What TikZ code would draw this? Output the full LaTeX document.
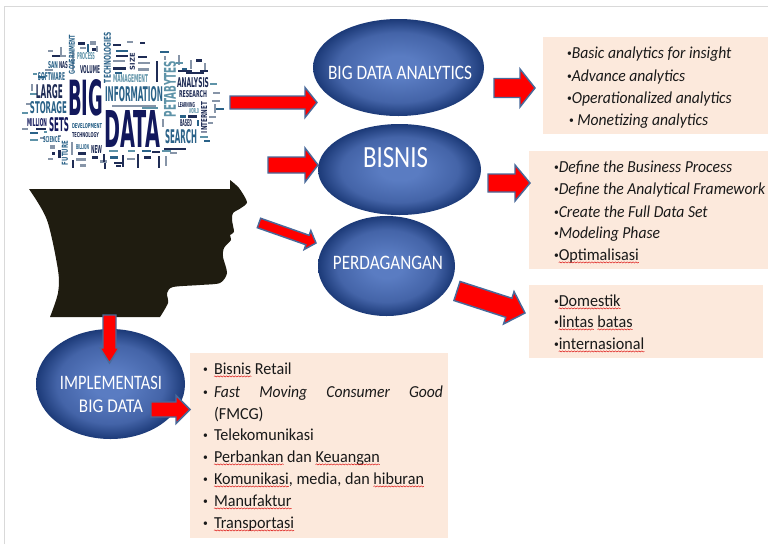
\documentclass[tikz,border=0pt]{standalone}
\usepackage{fontspec}
\usepackage{graphicx}
\setmainfont[FakeStretch=.96,ItalicFeatures={FakeStretch=.93}]{Carlito}
\newfontfamily\cloudfont{DejaVu Sans}
\usetikzlibrary{calc,shapes.geometric,decorations.pathmorphing}
\definecolor{boxfill}{HTML}{FCE9DC}
\definecolor{arrowline}{HTML}{48699A}
\definecolor{ballin}{HTML}{5A7CC2}
\definecolor{ballmid}{HTML}{4464A8}
\definecolor{ballout}{HTML}{1C3A78}
\definecolor{headcol}{HTML}{1F1C10}
\definecolor{framecol}{HTML}{D9D9D9}
\definecolor{cnavy}{HTML}{12185C}
\definecolor{cdark}{HTML}{1F2C55}
\definecolor{cteal}{HTML}{2A6288}
\definecolor{clite}{HTML}{5E93A8}
\definecolor{cgray}{HTML}{8795A8}
\pgfdeclareradialshading{ballshade}{\pgfpointorigin}{color(0bp)=(ballin);color(6bp)=(ballin);color(18bp)=(ballmid);color(25bp)=(ballout);color(50bp)=(ballout)}
\newsavebox\sqbox
\newcommand{\sq}[1]{\sbox\sqbox{#1}\leavevmode\rlap{\usebox\sqbox}\tikz[overlay,baseline=0pt]\draw[red!85!black,line width=.3pt,decorate,decoration={snake,amplitude=.45pt,segment length=2.2pt}] (0pt,-1.8pt)--(\the\wd\sqbox,-1.8pt);\hspace{\wd\sqbox}}
\newcommand{\txline}[4]{\node[bodytext] (#1) at (#2,#3) {#4};}
\newcommand{\dotb}{\raisebox{.9pt}{\fontsize{7.5pt}{8pt}\selectfont\upshape •}}
\newcommand{\blt}[1]{\makebox[8.25pt][l]{\dotb}#1}
\newcommand{\wch}[7]{\pgfmathsetlengthmacro\wcw{(#4-#2)*.75pt}\pgfmathsetlengthmacro\wcv{(#5-#3)*.75pt}%
 \node[cloudword,text=#6] (#1) at ({(#2+#4)/2},{(#3+#5)/2}) {\resizebox{\wcw}{\wcv}{\cloudfont\bfseries #7}};}
\newcommand{\wcr}[7]{\pgfmathsetlengthmacro\wcw{(#5-#3)*.75pt}\pgfmathsetlengthmacro\wcv{(#4-#2)*.75pt}%
 \node[cloudword,text=#6,rotate=90] (#1) at ({(#2+#4)/2},{(#3+#5)/2}) {\resizebox{\wcw}{\wcv}{\cloudfont\bfseries #7}};}
\newcommand{\barrow}[5]{\pgfmathsetlengthmacro\sa{#3*.75pt}\pgfmathsetlengthmacro\wa{#4*.75pt}\pgfmathsetlengthmacro\la{#5*.75pt}%
 \coordinate (hb) at ($(#2)!\la!(#1)$);
 \draw[blockarrow] ($(#1)!\sa!90:(#2)$) -- ($(hb)!\sa!90:(#2)$) -- ($(hb)!\wa!90:(#2)$) -- (#2) -- ($(hb)!\wa!-90:(#2)$) -- ($(hb)!\sa!-90:(#2)$) -- ($(#1)!\sa!-90:(#2)$) -- cycle;}
\tikzset{
 bodytext/.style={anchor=base west,inner sep=0pt,outer sep=0pt,font=\fontsize{12.6pt}{14pt}\selectfont,text=black!90},
 bodyit/.style={bodytext,font=\fontsize{12.6pt}{14pt}\selectfont\itshape},
 cloudword/.style={inner sep=0pt,outer sep=0pt},
 peach/.style={fill=boxfill,draw=none},
 ball/.style={ellipse,inner sep=0pt,shading=ballshade,draw=none},
 balltext/.style={inner sep=0pt,text=white,align=center},
 blockarrow/.style={fill=red,draw=arrowline,line width=1.1pt,line join=miter}
}
\begin{document}
\begin{tikzpicture}[x=.75pt,y=-.75pt]
\useasboundingbox (0,0) rectangle (768,544);
\fill[white] (0,0) rectangle (768,544);
\draw[framecol,line width=1.2pt] (4.5,544) -- (4.5,6.5) -- (768,6.5);

\foreach \x/\y/\w/\h/\c in {
22/112/6/2/clite,26/103/5/2/cgray,30/93/7/2/clite,31/84/2/7/cgray,38/76/7/2/cteal,45/69/8/2/cgray,33/73/4/2/clite,
52/55/8/2/cdark,60/55/6/2/cgray,48/50/5/2/cgray,60/47/2/8/cgray,
78/42/7/3/cdark,90/41/6/4/cgray,92/48/4/3/cdark,80/47/6/2/cgray,
22/128/6/2/cgray,30/132/8/2/cteal,36/128/10/2/cdark,40/137/5/2/cgray,30/139/8/2/clite,
50/145/5/4/cgray,52/152/3/3/cdark,58/150/3/8/cdark,48/158/5/2/cgray,
71/142/2/13/cgray,78/152/8/3/cdark,76/158/10/3/cgray,92/156/6/3/cdark,80/164/6/3/cgray,72/160/2/8/cdark,
100/160/7/3/cgray,103/154/2/8/cdark,109/150/9/2/clite,110/156/8/3/cteal,114/162/8/2/cdark,
104/163/2/6/cdark,116/165/5/2/cdark,122/155/2/12/cdark,128/150/7/2/clite,127/158/8/2/cgray,
137/154/2/14/cdark,142/150/9/2/cteal,144/156/7/3/cdark,152/151/8/2/cdark,158/156/2/12/cdark,
162/150/9/2/clite,165/156/2/10/cgray,170/152/7/2/cgray,176/148/10/2/cdark,
113/44/8/2/cdark,127/41/6/2/cgray,140/42/5/2/cdark,116/50/12/2/cteal,116/55/12/2/cdark,113/60/12/2/cgray,
113/67/13/3/cdark,115/72/7/2/cteal,138/56/9/2/cdark,138/62/12/2/cgray,138/68/11/3/cgray,
156/61/2/21/cdark,160/51/9/2/cteal,164/56/2/4/cgray,178/55/2/10/cgray,
176/62/7/2/clite,182/68/5/2/cteal,178/70/14/2/cdark,190/60/2/9/cgray,196/59/6/3/cdark,186/72/18/2/cdark,
200/70/8/2/cdark,204/63/2/7/cgray,112/105/20/2/cgray,132/105/24/2/cgray,142/107/16/2/clite,
210/83/7/2/clite,213/92/7/2/cgray,212/100/8/2/cgray,214/104/2/9/cgray,216/108/8/2/cteal,
209/116/7/2/cgray,208/122/5/2/cgray,180/115/6/3/cteal,188/115/9/3/cdark,
197/120/2/6/cteal,162/119/2/8/cgray,
200/136/8/2/clite,204/140/6/2/cteal,164/148/12/2/cdark,
72/52/1.5/18/cgray,96/46/2/6/cgray,87/44/2/8/cteal,58/135/3/2/cgray,44/131/3/2/clite}
{\fill[\c] (\x,\y) rectangle ++(\w,\h);}

\wch{wBig}{68}{80}{103}{116}{cnavy}{BIG}
\wch{wData}{104}{110}{160}{147}{cnavy}{DATA}
\wch{wInfo}{105}{87}{163}{102}{cteal}{INFORMATION}
\wch{wStorage}{30}{102}{67}{114}{cteal}{STORAGE}
\wch{wLarge}{36}{85}{63}{99}{cdark}{LARGE}
\wch{wSets}{49}{118}{69}{132}{cnavy}{SETS}
\wch{wMillion}{27}{119}{47}{127}{cnavy}{MILLION}
\wch{wSoftware}{38}{73}{65}{81}{cteal}{SOFTWARE}
\wch{wSan}{48}{62}{58}{69}{cteal}{SAN}
\wch{wNas}{59}{62}{68}{69}{cdark}{NAS}
\wch{wProcess}{77}{53}{95}{60}{clite}{PROCESS}
\wch{wVolume}{80}{66}{100}{74}{cdark}{VOLUME}
\wch{wManage}{113}{75}{148}{83}{clite}{MANAGEMENT}
\wch{wAnalysis}{177}{78}{209}{88}{cdark}{ANALYSIS}
\wch{wResearch}{179}{91}{207}{98}{cdark}{RESEARCH}
\wch{wSearch}{165}{130}{197}{144}{cteal}{SEARCH}
\wch{wBased}{180}{120}{192}{127}{cdark}{BASED}
\wch{wDevel}{72}{124}{102}{129}{cteal}{DEVELOPMENT}
\wch{wTechy}{72}{133}{99}{138}{cdark}{TECHNOLOGY}
\wch{wBillion}{76}{145}{89}{150}{cteal}{BILLION}
\wch{wNew}{91}{145}{102}{153}{cdark}{NEW}
\wch{wScience}{43}{137}{60}{143}{cteal}{SCIENCE}
\wch{wWorld}{189}{109}{199}{114}{clite}{WORLD}
\wch{wLearning}{178}{103}{195}{108}{cdark}{LEARNING}
\wcr{wTechs}{104}{32}{111}{83}{cteal}{TECHNOLOGIES}
\wcr{wGov}{69}{35}{75}{74}{cteal}{GOVERNMENT}
\wcr{wPeta}{164}{61}{176}{117}{clite}{PETABYTES}
\wcr{wInternet}{201}{102}{207}{133}{cdark}{INTERNET}
\wcr{wFuture}{62}{141}{68}{165}{cteal}{FUTURE}
\wcr{wSize}{130}{53}{135}{70}{cdark}{SIZE}

\fill[headcol] (29,189) -- (230,189) -- plot[smooth,tension=.45] coordinates {(230,180)(239,188)(247,202)(241,208)(233,213)(232,220)(234,232)(230,235)(231,240)(224,248)(223,257)(227,273)(220,283)(200,285)(173,287)(167,293)(168,303)(160,317)} -- (50,317) -- plot[smooth,tension=.5] coordinates {(50,317)(58,293)(58,270)(47,220)(29,189)} -- cycle;

\fill[peach] (543,37) rectangle (768,134);
\fill[peach] (529,151) rectangle (768,269);
\fill[peach] (529,285) rectangle (763,358);
\fill[peach] (190,353) rectangle (448,538);

\node[ball,minimum width=128.25pt,minimum height=72.75pt] (eAnalytics) at (398.5,67.5) {};
\node[ball,minimum width=122.25pt,minimum height=68.25pt] (eBisnis) at (399.5,169.5) {};
\node[ball,minimum width=102.75pt,minimum height=75pt] (ePerdagangan) at (386.5,266) {};
\node[ball,minimum width=111.75pt,minimum height=82.5pt] (eImpl) at (110.5,384) {};

\node[balltext] (tAnalytics) at (400,73) {\resizebox{108pt}{10pt}{BIG DATA ANALYTICS}};
\node[balltext] (tBisnis) at (395.5,158) {\resizebox{48.75pt}{15pt}{BISNIS}};
\node[balltext] (tPerdagangan) at (388,263) {\resizebox{82.5pt}{10pt}{PERDAGANGAN}};
\node[balltext] (tImpl) at (111,383) {\resizebox{76.5pt}{10pt}{IMPLEMENTASI}};
\node[balltext] (tBigData) at (111,406) {\resizebox{48pt}{9.5pt}{BIG DATA}};

\coordinate (a1s) at (230,102.5); \coordinate (a1e) at (317,102.5);
\coordinate (a2s) at (268,165); \coordinate (a2e) at (318,165);
\coordinate (a3s) at (259,223); \coordinate (a3e) at (316,243);
\coordinate (a4s) at (109.5,315); \coordinate (a4e) at (109.5,363);
\coordinate (a5s) at (151,409.5); \coordinate (a5e) at (190,409.5);
\coordinate (a6s) at (494,88); \coordinate (a6e) at (535,88);
\coordinate (a7s) at (488,183); \coordinate (a7e) at (530,183);
\coordinate (a8s) at (457,291); \coordinate (a8e) at (525,313);
\barrow{a1s}{a1e}{6.5}{15}{12}
\barrow{a2s}{a2e}{8}{17}{13}
\barrow{a3s}{a3e}{5}{10}{9}
\barrow{a4s}{a4e}{6.5}{9.5}{15}
\barrow{a5s}{a5e}{7.5}{14}{14}
\barrow{a6s}{a6e}{9.5}{19}{15}
\barrow{a7s}{a7e}{9}{18}{15}
\barrow{a8s}{a8e}{10}{17}{17}

\node[bodyit] (b1a) at (567,58) {\dotb Basic analytics for insight};
\node[bodyit] (b1b) at (567,81) {\dotb Advance analytics};
\node[bodyit] (b1c) at (567,103) {\dotb Operationalized analytics};
\node[bodyit] (b1d) at (569,125) {\dotb\ Monetizing analytics};
\node[bodyit] (b2a) at (554,172) {\dotb Define the Business Process};
\node[bodyit] (b2b) at (554,194) {\dotb Define the Analytical Framework};
\node[bodyit] (b2c) at (554,217) {\dotb Create the Full Data Set};
\node[bodyit] (b2d) at (554,238) {\dotb Modeling Phase};
\txline{b2e}{554}{260}{\dotb\sq{Optimalisasi}}
\txline{b3a}{554}{306}{\dotb\sq{Domestik}}
\txline{b3b}{554}{327}{\dotb\sq{lintas} \sq{batas}}
\txline{b3c}{554}{349}{\dotb\sq{internasional}}
\txline{b4a}{203}{374}{\blt{\sq{Bisnis} Retail}}
\txline{b4b}{203}{397}{\blt{\makebox[171.75pt][s]{\itshape Fast\hfill Moving\hfill Consumer\hfill Good}}}
\txline{b4c}{214}{419}{(FMCG)}
\txline{b4d}{203}{440}{\blt{Telekomunikasi}}
\txline{b4e}{203}{462}{\blt{\sq{Perbankan} dan \sq{Keuangan}}}
\txline{b4f}{203}{484}{\blt{\sq{Komunikasi}, media, dan \sq{hiburan}}}
\txline{b4g}{203}{506}{\blt{\sq{Manufaktur}}}
\txline{b4h}{203}{528}{\blt{\sq{Transportasi}}}
\end{tikzpicture}
\end{document}
